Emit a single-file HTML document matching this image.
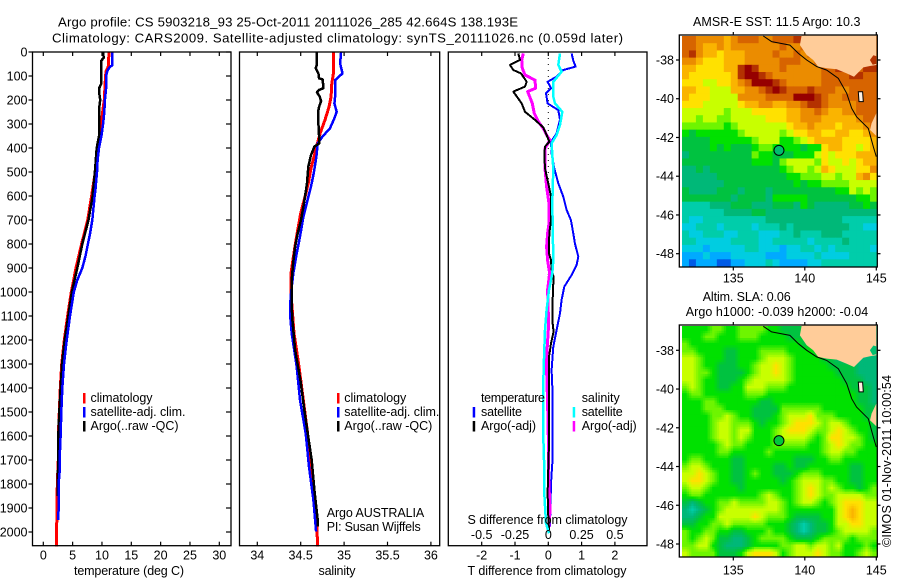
<!DOCTYPE html>
<html lang="en">
<head>
<meta charset="utf-8">
<title>Argo profile chart</title>
<style>
html,body{margin:0;padding:0;background:#fff;}
svg{display:block;}
text{font-family:"Liberation Sans",sans-serif;font-size:12.5px;fill:#000;}
.ttl{font-size:13.2px;}
</style>
</head>
<body>
<svg id="chart" xmlns="http://www.w3.org/2000/svg" width="900" height="580" viewBox="0 0 900 580">
<rect x="0" y="0" width="900" height="580" fill="#fff"/>
<text class="ttl" x="58" y="26.5" textLength="460" lengthAdjust="spacing">Argo profile: CS 5903218_93 25-Oct-2011 20111026_285 42.664S 138.193E</text>
<text class="ttl" x="52" y="42.5" textLength="571" lengthAdjust="spacing">Climatology: CARS2009. Satellite-adjusted climatology: synTS_20111026.nc (0.059d later)</text>
<g id="plots"></g>
<g id="maps"></g>

<text x="74" y="575" textLength="110" lengthAdjust="spacing">temperature (deg C)</text>
<text x="318.5" y="575" textLength="37" lengthAdjust="spacing">salinity</text>
<text x="467.5" y="575" textLength="159" lengthAdjust="spacing">T difference from climatology</text>
<text x="467.5" y="524" textLength="160" lengthAdjust="spacing">S difference from climatology</text>

<g>
<text x="90.5" y="402" textLength="62" lengthAdjust="spacing">climatology</text>
<text x="90.5" y="416" textLength="95" lengthAdjust="spacing">satellite-adj. clim.</text>
<text x="90.5" y="430" textLength="88" lengthAdjust="spacing">Argo(..raw -QC)</text>
<rect x="83" y="393" width="2.5" height="10.5" fill="#f00"/>
<rect x="83" y="407" width="2.5" height="10.5" fill="#00f"/>
<rect x="83" y="421" width="2.5" height="10.5" fill="#000"/>
</g>
<g>
<text x="344.3" y="402" textLength="62" lengthAdjust="spacing">climatology</text>
<text x="344.3" y="416" textLength="95" lengthAdjust="spacing">satellite-adj. clim.</text>
<text x="344.3" y="430" textLength="88" lengthAdjust="spacing">Argo(..raw -QC)</text>
<rect x="337" y="393" width="2.5" height="10.5" fill="#f00"/>
<rect x="337" y="407" width="2.5" height="10.5" fill="#00f"/>
<rect x="337" y="421" width="2.5" height="10.5" fill="#000"/>
<text x="326.7" y="517" textLength="97.5" lengthAdjust="spacing">Argo AUSTRALIA</text>
<text x="326.7" y="531" textLength="94" lengthAdjust="spacing">PI: Susan Wijffels</text>
</g>
<g>
<text x="481" y="402" textLength="64" lengthAdjust="spacing">temperature</text>
<text x="481" y="416" textLength="41" lengthAdjust="spacing">satellite</text>
<text x="481" y="430" textLength="55" lengthAdjust="spacing">Argo(-adj)</text>
<rect x="472.7" y="407" width="2.5" height="10.5" fill="#00f"/>
<rect x="472.7" y="421" width="2.5" height="10.5" fill="#000"/>
<text x="581.7" y="402" textLength="38" lengthAdjust="spacing">salinity</text>
<text x="581.7" y="416" textLength="41" lengthAdjust="spacing">satellite</text>
<text x="581.7" y="430" textLength="55" lengthAdjust="spacing">Argo(-adj)</text>
<rect x="572.7" y="407" width="2.5" height="10.5" fill="#0ff"/>
<rect x="572.7" y="421" width="2.5" height="10.5" fill="#f0f"/>
</g>

<text x="693" y="26" textLength="167.5" lengthAdjust="spacing">AMSR-E SST: 11.5 Argo: 10.3</text>
<text x="702.7" y="301" textLength="88" lengthAdjust="spacing">Altim. SLA: 0.06</text>
<text x="685.7" y="316" textLength="182.5" lengthAdjust="spacing">Argo h1000: -0.039 h2000: -0.04</text>
<text transform="translate(891,547) rotate(-90)" x="0" y="0" textLength="172" lengthAdjust="spacing">©IMOS 01-Nov-2011 10:00:54</text>
</svg>

<script>
/* ---------- axis tick data ---------- */
const depthTicks = [0,100,200,300,400,500,600,700,800,900,1000,1100,1200,1300,1400,1500,1600,1700,1800,1900,2000];
const tempTicks = [0,5,10,15,20,25,30];
const salTicks = [34,34.5,35,35.5,36];
const salTickLabels = ['34','34.5','35','35.5','36'];
const tDiffTicks = [-2,-1,0,1,2];
const sDiffTicks = [-0.5,-0.25,0,0.25,0.5];
const sDiffTickLabels = ['-0.5','-0.25','0','0.25','0.5'];
const lonTicks = [135,140,145];
const latTicks = [-38,-40,-42,-44,-46,-48];

/* ---------- temperature profiles ---------- */
const tempClimDepth = [0,60,80,100,150,200,250,300,350,400,500,600,700,800,900,1000,1100,1200,1300,1400,1500,1600,1700,1800,1900,2000,2060];
const tempClimValue = [11.2,11.08,10.7,10.6,10.5,10.4,10.1,9.9,9.65,9.26,8.86,8.24,7.56,6.53,5.57,4.77,4.15,3.58,3.13,2.9,2.73,2.56,2.56,2.39,2.33,2.27,2.27];
const tempSatDepth = [0,55,65,80,100,150,200,250,300,350,400,450,500,570,600,700,760,800,850,900,950,1000,1100,1200,1300,1400,1500,1600,1700,1750,1800,1900,1950];
const tempSatValue = [11.76,11.76,11.25,10.9,10.7,10.7,10.5,10.4,10.2,9.9,9.5,9.26,9.15,8.9,8.75,8.35,7.95,7.6,7.2,6.65,5.8,5.2,4.55,3.98,3.52,3.24,3.07,2.95,2.78,2.78,2.6,2.6,2.56];
const tempArgoDepth = [0,25,35,100,130,150,165,200,230,300,350,400,500,600,700,800,900,1000,1100,1200,1300,1400,1500,1600,1700,1800,1850];
const tempArgoValue = [10.2,10.3,9.9,9.9,9.9,9.55,9.5,9.7,9.55,9.55,9.5,9.1,8.8,8.4,7.7,6.65,5.8,4.85,4.26,3.64,3.18,2.95,2.73,2.56,2.56,2.44,2.44];

/* ---------- salinity profiles ---------- */
const salClimDepth = [0,89,131,186,228,283,339,381,429,485,547,603,672,742,825,922,1006,1172,1311,1450,1589,1728,1867,1978,2060];
const salClimValue = [34.877,34.877,34.858,34.85,34.827,34.78,34.723,34.692,34.658,34.619,34.588,34.55,34.5,34.465,34.427,34.388,34.388,34.423,34.48,34.53,34.58,34.62,34.658,34.685,34.696];
const salSatDepth = [0,47,89,117,186,214,249,276,318,353,381,436,506,561,631,686,769,839,922,1006,1061,1089,1172,1311,1450,1589,1728,1867,1998];
const salSatValue = [34.965,34.954,34.981,34.896,34.896,34.888,34.915,34.888,34.838,34.75,34.696,34.681,34.65,34.619,34.569,34.531,34.492,34.454,34.415,34.388,34.377,34.377,34.396,34.454,34.492,34.558,34.596,34.646,34.677];
const salArgoDepth = [0,54,68,89,110,114,151,158,168,186,204,228,249,297,353,381,394,429,478,547,603,644,700,756,811,881,950,1061,1117,1241,1367,1491,1616,1700,1825,1950,1977];
const salArgoValue = [34.685,34.685,34.673,34.704,34.712,34.754,34.762,34.712,34.688,34.719,34.735,34.712,34.7,34.704,34.712,34.712,34.658,34.619,34.588,34.573,34.55,34.531,34.504,34.465,34.435,34.412,34.396,34.396,34.404,34.435,34.496,34.542,34.592,34.627,34.658,34.696,34.696];

/* ---------- difference profiles ---------- */
const dTSatDepth = [6,36,61,75,103,124,151,172,214,242,283,339,374,422,485,547,603,658,700,756,797,853,888,929,978,1033,1089,1158,1228,1325,1394,1714,1797,1978];
const dTSatValue = [0.7,0.75,0.82,0.45,0.25,-0.02,0.08,-0.07,-0.02,0.3,0.35,0.25,0.08,0.1,0.18,0.3,0.45,0.55,0.68,0.75,0.8,0.9,0.85,0.7,0.48,0.4,0.35,0.25,0.15,0.1,0.12,0.12,0.08,0.05];
const dTArgoDepth = [6,33,54,75,89,124,144,165,214,249,283,314,346,374,394,429,485,561,603,700,756,839,867,908,936,992,1075,1117,1166,1214,1270,1325,1533,1630,1839,1936,1992];
const dTArgoValue = [-0.9,-0.85,-1.15,-1.05,-0.82,-0.65,-0.7,-1.05,-0.8,-0.7,-0.4,-0.15,-0.05,0.03,-0.1,-0.12,-0.1,0.02,0.08,0.08,0.03,0.02,0.08,0.1,0.16,0.14,0.12,0.12,0.16,0.08,0.02,0.02,0.02,0.02,-0.02,0,0.02];
const dSSatDepth = [6,54,82,124,186,214,249,304,346,381,429,485,631,867,922,992,1075,1158,1325,1394,1603,1742,1839,1964,2005];
const dSSatValue = [0.0875,0.075,0.1,0.0375,0.0375,0.05,0.105,0.0875,0.0625,0.025,0.03,0.0375,0.03,0.0375,0.03,0.005,-0.0125,-0.025,-0.035,-0.0375,-0.0375,-0.03,-0.03,-0.0175,0.005];
const dSArgoDepth = [6,33,68,96,117,151,165,214,256,290,318,346,367,401,485,561,631,714,756,811,867,922,992,1089,1158,1270,1325,1464,1603,1742,1908,1978];
const dSArgoValue = [-0.188,-0.2,-0.195,-0.175,-0.1,-0.095,-0.155,-0.12,-0.105,-0.075,-0.038,-0.013,0.013,-0.025,-0.025,-0.013,0.005,0.005,-0.005,-0.013,-0.005,0.01,-0.005,0,0,-0.013,-0.013,-0.005,0,0,0.013,0.005];

/* ---------- map fields (colour-class values per cell) ---------- */
const sstGrid = [
[12,12,11,11,11,11,10,11,12,12,12,11,11,12,12,12,13,13,13,13,12,12,12,12,12,12,12,12],
[12,12,11,10,10,11,10,11,11,11,11,11,11,11,12,11,11,12,13,13,13,12,12,12,12,12,12,12],
[12,13,11,10,10,9,10,10,10,11,11,11,11,12,11,11,12,11,12,12,13,12,12,12,12,12,12,12],
[11,11,10,9,9,9,10,10,10,11,11,11,11,11,12,12,12,11,11,12,12,13,12,12,12,12,14,12],
[10,10,9,9,9,9,10,10,13,14,13,11,11,11,12,11,11,11,11,11,12,12,13,13,12,12,13,13],
[10,9,9,9,9,9,9,10,13,14,14,13,12,11,11,11,11,11,11,11,12,12,12,12,13,13,12,12],
[9,9,9,8,8,9,9,10,11,12,14,14,14,13,12,11,11,11,11,11,12,12,12,12,12,12,12,12],
[10,10,9,9,8,8,8,10,10,11,11,12,13,14,13,12,12,12,13,12,12,12,11,11,12,12,12,12],
[10,9,9,9,8,8,8,8,11,11,11,11,12,12,12,12,14,14,14,13,12,11,11,12,12,12,12,12],
[9,9,9,8,8,8,8,8,9,10,10,11,11,10,10,11,11,12,13,13,12,11,11,11,11,12,12,12],
[8,8,8,8,8,8,7,8,8,8,9,9,9,9,9,10,10,11,11,12,11,10,10,11,11,12,12,12],
[8,8,7,8,8,7,7,8,8,8,8,8,9,9,9,10,10,11,11,11,10,10,10,10,10,11,12,12],
[7,7,7,7,7,7,6,7,8,8,8,8,8,8,8,9,10,10,11,10,10,10,9,10,10,10,11,12],
[6,5,6,6,6,6,6,6,7,8,8,8,8,8,7,8,9,9,10,10,9,9,10,10,9,9,10,11],
[5,5,5,5,6,6,6,6,6,6,7,8,8,8,6,6,7,8,9,10,10,10,10,9,9,9,9,10],
[5,5,5,5,6,5,6,5,5,5,6,7,7,6,6,6,6,5,6,6,9,10,10,9,9,8,9,10],
[4,5,5,5,5,5,5,5,5,5,7,6,6,5,5,5,6,6,6,8,9,8,9,9,9,10,10,10],
[5,5,5,5,5,5,5,5,5,5,6,6,6,5,7,8,8,8,8,7,9,8,8,9,8,9,10,10],
[4,4,5,4,5,5,5,5,5,5,5,5,5,5,6,7,8,8,7,8,10,9,8,8,8,9,9,11],
[4,4,4,4,4,5,5,5,5,5,5,5,5,5,5,6,6,7,7,7,8,8,7,8,8,10,11,9],
[4,4,4,4,4,4,5,5,5,5,5,5,5,5,5,5,6,5,6,6,7,7,7,7,8,8,8,8],
[5,4,4,4,4,5,5,5,4,5,5,5,4,5,5,5,5,5,5,5,5,5,6,6,8,7,8,7],
[5,5,5,5,5,5,5,4,5,5,5,5,4,6,6,6,6,6,5,5,5,5,5,5,5,6,6,7],
[3,3,3,3,4,4,4,5,5,5,4,4,4,5,5,5,4,6,5,4,4,4,4,4,5,5,6,5],
[3,3,3,3,3,3,4,4,4,4,5,5,4,4,4,4,4,4,4,4,4,4,4,4,4,4,4,4],
[3,2,2,3,3,3,3,3,3,3,3,3,4,4,4,4,4,4,4,4,4,4,4,3,3,3,3,3],
[2,2,3,3,3,2,3,3,3,3,2,3,3,3,4,3,4,4,4,4,4,4,4,4,3,3,2,2],
[3,2,2,3,3,3,2,2,3,3,3,2,2,2,3,3,4,3,3,3,4,4,4,3,3,3,3,3],
[3,3,2,2,2,2,2,3,3,3,3,2,2,3,3,3,3,3,2,3,3,3,3,4,3,3,3,3],
[2,2,2,1,2,2,2,2,2,3,3,2,2,2,1,2,2,3,3,2,3,2,3,3,3,3,3,2],
[1,1,1,2,1,1,1,2,2,2,2,2,1,1,1,2,2,2,2,3,2,2,2,2,3,3,3,3],
[1,0,1,1,1,0,0,1,1,2,2,2,3,2,1,1,1,1,2,2,3,3,3,3,3,3,3,3]
];
const slaGrid = [
[6,6,6,6,7,7,6,6,7,7,7,7,6,6,5,5,5,5,5,4,4,4,4,4,4,4,4,4],
[6,6,6,7,7,6,6,6,7,7,7,6,6,6,6,5,5,5,4,4,4,4,4,4,4,4,4,4],
[7,6,6,6,6,6,6,6,6,6,6,6,6,6,6,6,6,5,5,5,4,4,4,4,4,4,4,4],
[7,7,6,6,6,6,5,5,6,6,6,7,7,7,7,6,6,6,6,5,5,4,4,4,4,4,4,4],
[8,8,7,6,6,6,5,5,6,6,6,7,8,8,8,7,6,6,6,6,5,5,4,4,4,4,4,4],
[8,8,7,6,6,5,5,5,6,6,7,8,8,9,8,7,6,6,6,6,6,5,5,5,5,4,4,4],
[8,8,7,7,6,5,5,5,5,6,7,8,8,9,8,7,6,6,6,6,6,6,5,5,5,4,4,4],
[8,8,7,6,6,5,5,5,6,7,8,8,8,8,8,7,6,6,6,6,6,6,6,5,5,5,4,4],
[7,8,7,6,6,5,5,6,6,8,8,8,7,7,7,6,6,6,6,6,6,6,6,6,5,5,5,4],
[6,7,7,6,6,6,6,6,6,7,7,7,6,6,6,6,6,6,6,6,6,6,6,6,6,5,5,4],
[6,6,6,7,7,6,6,6,6,6,6,5,5,6,6,6,6,6,6,6,6,6,6,6,6,5,5,4],
[6,6,6,7,7,7,6,6,6,6,5,5,5,5,7,7,7,7,7,7,6,6,6,6,6,6,5,5],
[6,6,6,6,7,7,8,7,6,6,5,5,5,6,7,8,8,8,9,7,7,7,6,6,6,6,5,5],
[6,6,6,6,7,8,8,7,7,7,6,5,6,6,7,8,9,9,9,8,7,8,8,7,6,6,6,5],
[6,6,6,6,7,8,8,7,8,8,6,6,6,7,8,9,9,9,8,7,7,8,9,8,7,6,6,5],
[6,6,6,6,7,8,8,7,8,7,6,6,6,7,8,8,8,8,7,6,7,9,9,8,8,7,6,5],
[6,6,6,6,6,7,8,7,7,6,6,6,6,7,7,7,7,7,6,6,7,8,9,8,7,7,6,6],
[6,6,6,6,6,7,7,6,6,6,6,6,7,6,6,6,6,6,6,6,7,8,8,7,7,6,6,6],
[6,7,7,6,6,6,6,5,5,6,6,6,6,6,6,6,5,5,5,6,6,7,7,6,6,6,6,6],
[7,8,8,7,6,6,6,5,5,6,6,6,6,5,5,6,5,5,6,6,6,6,6,6,5,5,6,6],
[8,8,9,8,7,6,6,5,5,6,7,6,6,5,5,5,6,7,7,7,6,6,6,6,5,5,6,6],
[8,9,9,8,7,6,6,5,5,6,6,6,6,6,5,6,7,8,8,8,7,7,6,6,5,5,6,6],
[7,8,8,7,6,6,6,6,5,6,6,6,6,6,6,6,7,8,9,8,7,8,7,6,6,5,6,7],
[6,7,7,6,6,6,6,6,6,6,6,7,8,7,6,6,7,8,9,8,7,7,8,8,8,8,7,7],
[5,4,5,6,6,7,7,8,7,7,7,7,8,8,7,6,7,8,8,7,6,7,8,9,9,9,8,8],
[4,3,4,5,6,7,8,8,8,8,8,8,8,8,7,6,6,6,6,6,6,6,8,9,10,9,8,8],
[4,4,5,6,6,8,8,8,8,8,9,8,7,7,7,6,5,5,5,5,6,6,8,9,10,9,8,8],
[5,5,6,6,7,7,8,7,7,7,7,7,6,6,6,5,4,3,4,5,5,6,8,8,9,9,8,8],
[7,6,6,7,7,6,6,5,5,6,6,6,7,6,6,5,4,3,4,5,5,6,7,8,8,8,8,7],
[7,6,7,8,7,5,5,4,4,5,6,7,7,7,7,6,5,5,5,6,7,7,7,7,6,7,7,7],
[7,7,8,8,6,5,4,4,4,5,6,6,6,6,7,7,8,8,7,8,8,7,8,6,6,6,7,6],
[8,7,7,7,7,5,5,5,6,8,9,9,9,8,6,7,8,8,8,9,8,7,7,6,6,7,8,7]
];
const colourRGB = [[0,90,230],[0,170,255],[0,205,225],[0,205,170],[0,184,120],[0,194,64],[0,225,0],[110,245,0],[200,255,0],[255,225,0],[250,180,0],[235,140,0],[215,100,0],[180,50,0],[150,0,0]];

/* ---------- coast and profile location (lon, lat) ---------- */
const landLon = [139.78,139.66,140.13,140.59,140.94,141.53,142.23,142.93,143.44,144.09,144.56,145.0,145.0];
const landLat = [-36.71,-37.23,-37.74,-38.0,-38.34,-38.43,-38.48,-38.69,-38.86,-38.38,-38.31,-38.26,-36.71];
const tasLon = [145.0,144.67,144.56,145.0];
const tasLat = [-40.75,-41.27,-41.61,-41.92];
const islandLon = [143.74,144.04,144.09,143.79];
const islandLat = [-39.64,-39.64,-40.15,-40.15];
const bayLon = [144.55,144.8,145.0,145.0,144.75];
const bayLat = [-38.0,-37.75,-37.8,-38.2,-38.25];
const isobathLon = [137.1,137.68,138.96,139.55,140.13,140.83,141.53,142.34,142.93,143.28,143.62,144.44,144.79,145.0];
const isobathLat = [-36.76,-37.05,-37.23,-37.66,-38.0,-38.34,-38.52,-38.95,-39.72,-40.5,-40.93,-41.53,-42.47,-42.99];
const profileLon = [138.193];
const profileLat = [-42.664];

/* ---------- axis functions ---------- */
const NS = 'http://www.w3.org/2000/svg';
const yDepth = d => 52 + 0.24 * d;
const xTemp = t => 43.3 + 5.867 * t;
const xSal = s => 257.3 + 86.8 * (s - 34);
const xDT = v => 548.3 + 33.3 * v;
const xDS = v => 548.3 + 133.2 * v;
const xLon = l => 733.3 + 14.3 * (l - 135);
const ySst = l => 60 + 19.37 * (-38 - l);
const ySla = l => 350.3 + 19.37 * (-38 - l);

function el(tag, parent, attrs) {
  const e = document.createElementNS(NS, tag);
  for (const k in attrs) e.setAttribute(k, attrs[k]);
  parent.appendChild(e);
  return e;
}
function seg(parent, x1, y1, x2, y2, w) {
  const t = el('line', parent, {x1:x1, y1:y1, x2:x2, y2:y2, stroke:'#000', 'stroke-width':w || 1.2});
  
  
  return t;
}
function label(parent, x, y, str, anchor) {
  const t = el('text', parent, {x:x, y:y, 'text-anchor':anchor});
  t.textContent = str;
  
  
  return t;
}
function series(parent, name, depth, values, xf, colour, width) {
  const pts = depth.map((d, i) => xf(values[i]).toFixed(1) + ',' + yDepth(d).toFixed(1)).join(' ');
  const p = el('polyline', parent, {points:pts, fill:'none', stroke:colour, 'stroke-width':width, 'stroke-linejoin':'round', 'shape-rendering':'crispEdges'});
  
  
  return p;
}
function frame(parent, x0, x1) {
  const r = el('rect', parent, {x:x0, y:52, width:x1 - x0, height:493.7, fill:'none', stroke:'#000', 'stroke-width':1.3});
  
  
}

const plots = document.getElementById('plots');
const BOTTOM = 545.7;

/* temperature panel */
const g1 = el('g', plots, {});


series(g1, 'temperature-climatology-line', tempClimDepth, tempClimValue, xTemp, '#f00', 3);
series(g1, 'temperature-argo-line', tempArgoDepth, tempArgoValue, xTemp, '#000', 2.5);
series(g1, 'temperature-satellite-line', tempSatDepth, tempSatValue, xTemp, '#00f', 2.5);
frame(g1, 32.5, 231);
depthTicks.forEach(d => {
  seg(g1, 28.5, yDepth(d), 32.5, yDepth(d));
  seg(g1, 226, yDepth(d), 231, yDepth(d));
  label(g1, 27.5, yDepth(d) + 4.5, String(d), 'end');
});
tempTicks.forEach(t => {
  seg(g1, xTemp(t), 52, xTemp(t), 56);
  seg(g1, xTemp(t), BOTTOM - 4, xTemp(t), BOTTOM);
  label(g1, xTemp(t), 559.5, String(t), 'middle');
});

/* salinity panel */
const g2 = el('g', plots, {});


series(g2, 'salinity-climatology-line', salClimDepth, salClimValue, xSal, '#f00', 3);
series(g2, 'salinity-satellite-line', salSatDepth, salSatValue, xSal, '#00f', 2.5);
series(g2, 'salinity-argo-line', salArgoDepth, salArgoValue, xSal, '#000', 2.5);
frame(g2, 239.5, 439.7);
salTicks.forEach((s, i) => {
  seg(g2, xSal(s), 52, xSal(s), 56);
  seg(g2, xSal(s), BOTTOM - 4, xSal(s), BOTTOM);
  label(g2, xSal(s), 559.5, salTickLabels[i], 'middle');
});

/* difference panel */
const g3 = el('g', plots, {});


const zeroLine = el('line', g3, {x1:xDT(0), y1:52, x2:xDT(0), y2:BOTTOM, stroke:'#000', 'stroke-width':1, 'stroke-dasharray':'1 5'});


series(g3, 't-diff-satellite-line', dTSatDepth, dTSatValue, xDT, '#00f', 2);
series(g3, 's-diff-argo-line', dSArgoDepth, dSArgoValue, xDS, '#f0f', 3);
series(g3, 't-diff-argo-line', dTArgoDepth, dTArgoValue, xDT, '#000', 2);
series(g3, 's-diff-satellite-line', dSSatDepth, dSSatValue, xDS, '#0ff', 2.5);
frame(g3, 448.3, 647);
tDiffTicks.forEach(v => {
  seg(g3, xDT(v), 52, xDT(v), 56);
  seg(g3, xDT(v), BOTTOM - 4, xDT(v), BOTTOM);
  label(g3, xDT(v), 559.5, String(v), 'middle');
});
sDiffTicks.forEach((v, i) => {
  label(g3, xDS(v), 539, sDiffTickLabels[i], 'middle');
});

/* maps */
const maps = document.getElementById('maps');
function classColour(v) {
  const i = Math.max(0, Math.min(colourRGB.length - 2, Math.floor(v)));
  const f = Math.max(0, Math.min(1, v - i));
  const a = colourRGB[i], b = colourRGB[i + 1];
  return 'rgb(' + a.map((c, k) => Math.round(c + (b[k] - c) * f)).join(',') + ')';
}
function sampleGrid(grid, r, c) {
  const rows = grid.length, cols = grid[0].length;
  const rr = Math.max(0, Math.min(rows - 1.001, r)), cc = Math.max(0, Math.min(cols - 1.001, c));
  const r0 = Math.floor(rr), c0 = Math.floor(cc), fr = rr - r0, fc = cc - c0;
  return (grid[r0][c0] * (1 - fc) + grid[r0][c0 + 1] * fc) * (1 - fr) + (grid[r0 + 1][c0] * (1 - fc) + grid[r0 + 1][c0 + 1] * fc) * fr;
}
function polygon(parent, name, lons, lats, yf, fill, stroke) {
  const pts = lons.map((l, i) => xLon(l).toFixed(1) + ',' + yf(lats[i]).toFixed(1)).join(' ');
  const p = el('polygon', parent, {points:pts, fill:fill, stroke:stroke || 'none', 'stroke-width':1});
  
  
}
function drawMap(name, grid, top, bottom, yf, bayColour, dotFill, tickLabelY, smooth) {
  const g = el('g', maps, {});
  
  
  const left = 682, right = 877;
  const sub = smooth ? 3 : 1;
  const cw = (right - left) / grid[0].length / sub, ch = (bottom - top) / grid.length / sub;
  for (let r = 0; r < grid.length * sub; r++) {
    for (let c = 0; c < grid[0].length * sub; c++) {
      const v = smooth ? sampleGrid(grid, (r + 0.5) / sub - 0.5, (c + 0.5) / sub - 0.5) : grid[r][c];
      const cell = el('rect', g, {x:(left + c * cw).toFixed(2), y:(top + r * ch).toFixed(2), width:(cw + 0.5).toFixed(2), height:(ch + 0.5).toFixed(2), fill:classColour(v)});
      
      
    }
  }
  polygon(g, 'land-mainland', landLon, landLat, yf, '#ffcc99');
  polygon(g, 'port-phillip-bay', bayLon, bayLat, yf, bayColour);
  polygon(g, 'land-tasmania', tasLon, tasLat, yf, '#ffcc99');
  polygon(g, 'land-king-island', islandLon, islandLat, yf, '#fff0e0', '#000');
  const isoPts = isobathLon.map((l, i) => xLon(l).toFixed(1) + ',' + yf(isobathLat[i]).toFixed(1)).join(' ');
  const iso = el('polyline', g, {points:isoPts, fill:'none', stroke:'#000', 'stroke-width':1});
  
  
  const dot = el('circle', g, {cx:xLon(profileLon[0]), cy:yf(profileLat[0]), r:5, fill:dotFill, stroke:'#000', 'stroke-width':1});
  
  
  const box = el('rect', g, {x:679.3, y:top - 1, width:198, height:bottom - top + 1.5, fill:'none', stroke:'#000', 'stroke-width':1.3});
  
  
  lonTicks.forEach(l => {
    seg(g, xLon(l), top - 4, xLon(l), top - 1);
    seg(g, xLon(l), bottom + 0.5, xLon(l), bottom + 4);
    label(g, xLon(l), tickLabelY, String(l), 'middle');
  });
  latTicks.forEach(l => {
    seg(g, 676, yf(l), 679.3, yf(l));
    seg(g, 877.3, yf(l), 880.5, yf(l));
    label(g, 674, yf(l) + 4.5, String(l), 'end');
  });
}
drawMap('sst-map', sstGrid, 36, 266.5, ySst, '#b43200', '#00be6e', 282.5, false);
drawMap('sla-map', slaGrid, 326, 556.5, ySla, '#00be6e', '#00c83c', 574.5, true);
</script>
</body>
</html>
